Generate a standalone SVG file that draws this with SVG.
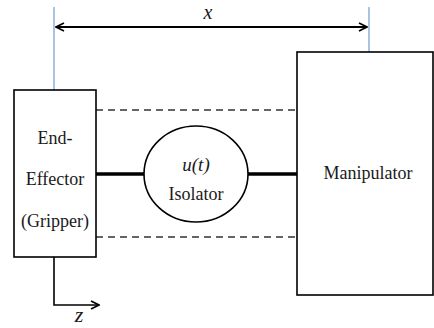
<svg xmlns="http://www.w3.org/2000/svg" width="434" height="328" viewBox="0 0 434 328">
<defs>
<marker id="ah" viewBox="0 0 10 10" refX="9" refY="5" markerWidth="10" markerHeight="10" markerUnits="userSpaceOnUse" orient="auto-start-reverse">
<path d="M1,1 L9,5 L1,9" fill="none" stroke="#000" stroke-width="1.6"/>
</marker>
<style>
text{font-family:"Liberation Serif","DejaVu Serif",serif;font-size:18px;fill:#1a1a1a;text-anchor:middle}
.it{font-style:italic}
.box{fill:#fff;stroke:#000;stroke-width:1.6}
.dash{stroke:#333;stroke-width:1.4;stroke-dasharray:7 5;fill:none}
.thick{stroke:#000;stroke-width:3.5}
.blue{stroke:#6f9bd1;stroke-width:1.2}
</style>
</defs>
<rect width="434" height="328" fill="#fff"/>
<g id="connectors">
<line class="blue" x1="54" y1="7" x2="54" y2="90"/>
<line class="blue" x1="369" y1="7" x2="369" y2="52"/>
<line x1="56" y1="27" x2="367" y2="27" stroke="#000" stroke-width="1.8" marker-start="url(#ah)" marker-end="url(#ah)"/>
<line class="dash" x1="96" y1="110" x2="297" y2="110"/>
<line class="dash" x1="96" y1="237" x2="297" y2="237"/>
<line class="thick" x1="96" y1="174" x2="145" y2="174"/>
<line class="thick" x1="248" y1="174" x2="297" y2="174"/>
<polyline points="54,257 54,305 99,305" fill="none" stroke="#000" stroke-width="1.6" marker-end="url(#ah)"/>
</g>
<text x="208" y="19" class="it" style="font-size:20px">x</text>
<text x="79" y="322" class="it" style="font-size:22px">z</text>
<g id="end-effector">
<rect class="box" x="14" y="90" width="82" height="167"/>
<text x="55" y="144">End-</text>
<text x="55" y="185">Effector</text>
<text x="55" y="227">(Gripper)</text>
</g>
<g id="isolator">
<ellipse class="box" cx="196" cy="174" rx="52" ry="48"/>
<text x="196" y="171" class="it" style="font-size:19px">u(t)</text>
<text x="196" y="200">Isolator</text>
</g>
<g id="manipulator">
<rect class="box" x="297" y="52" width="136" height="243"/>
<text x="368" y="179">Manipulator</text>
</g>
</svg>
